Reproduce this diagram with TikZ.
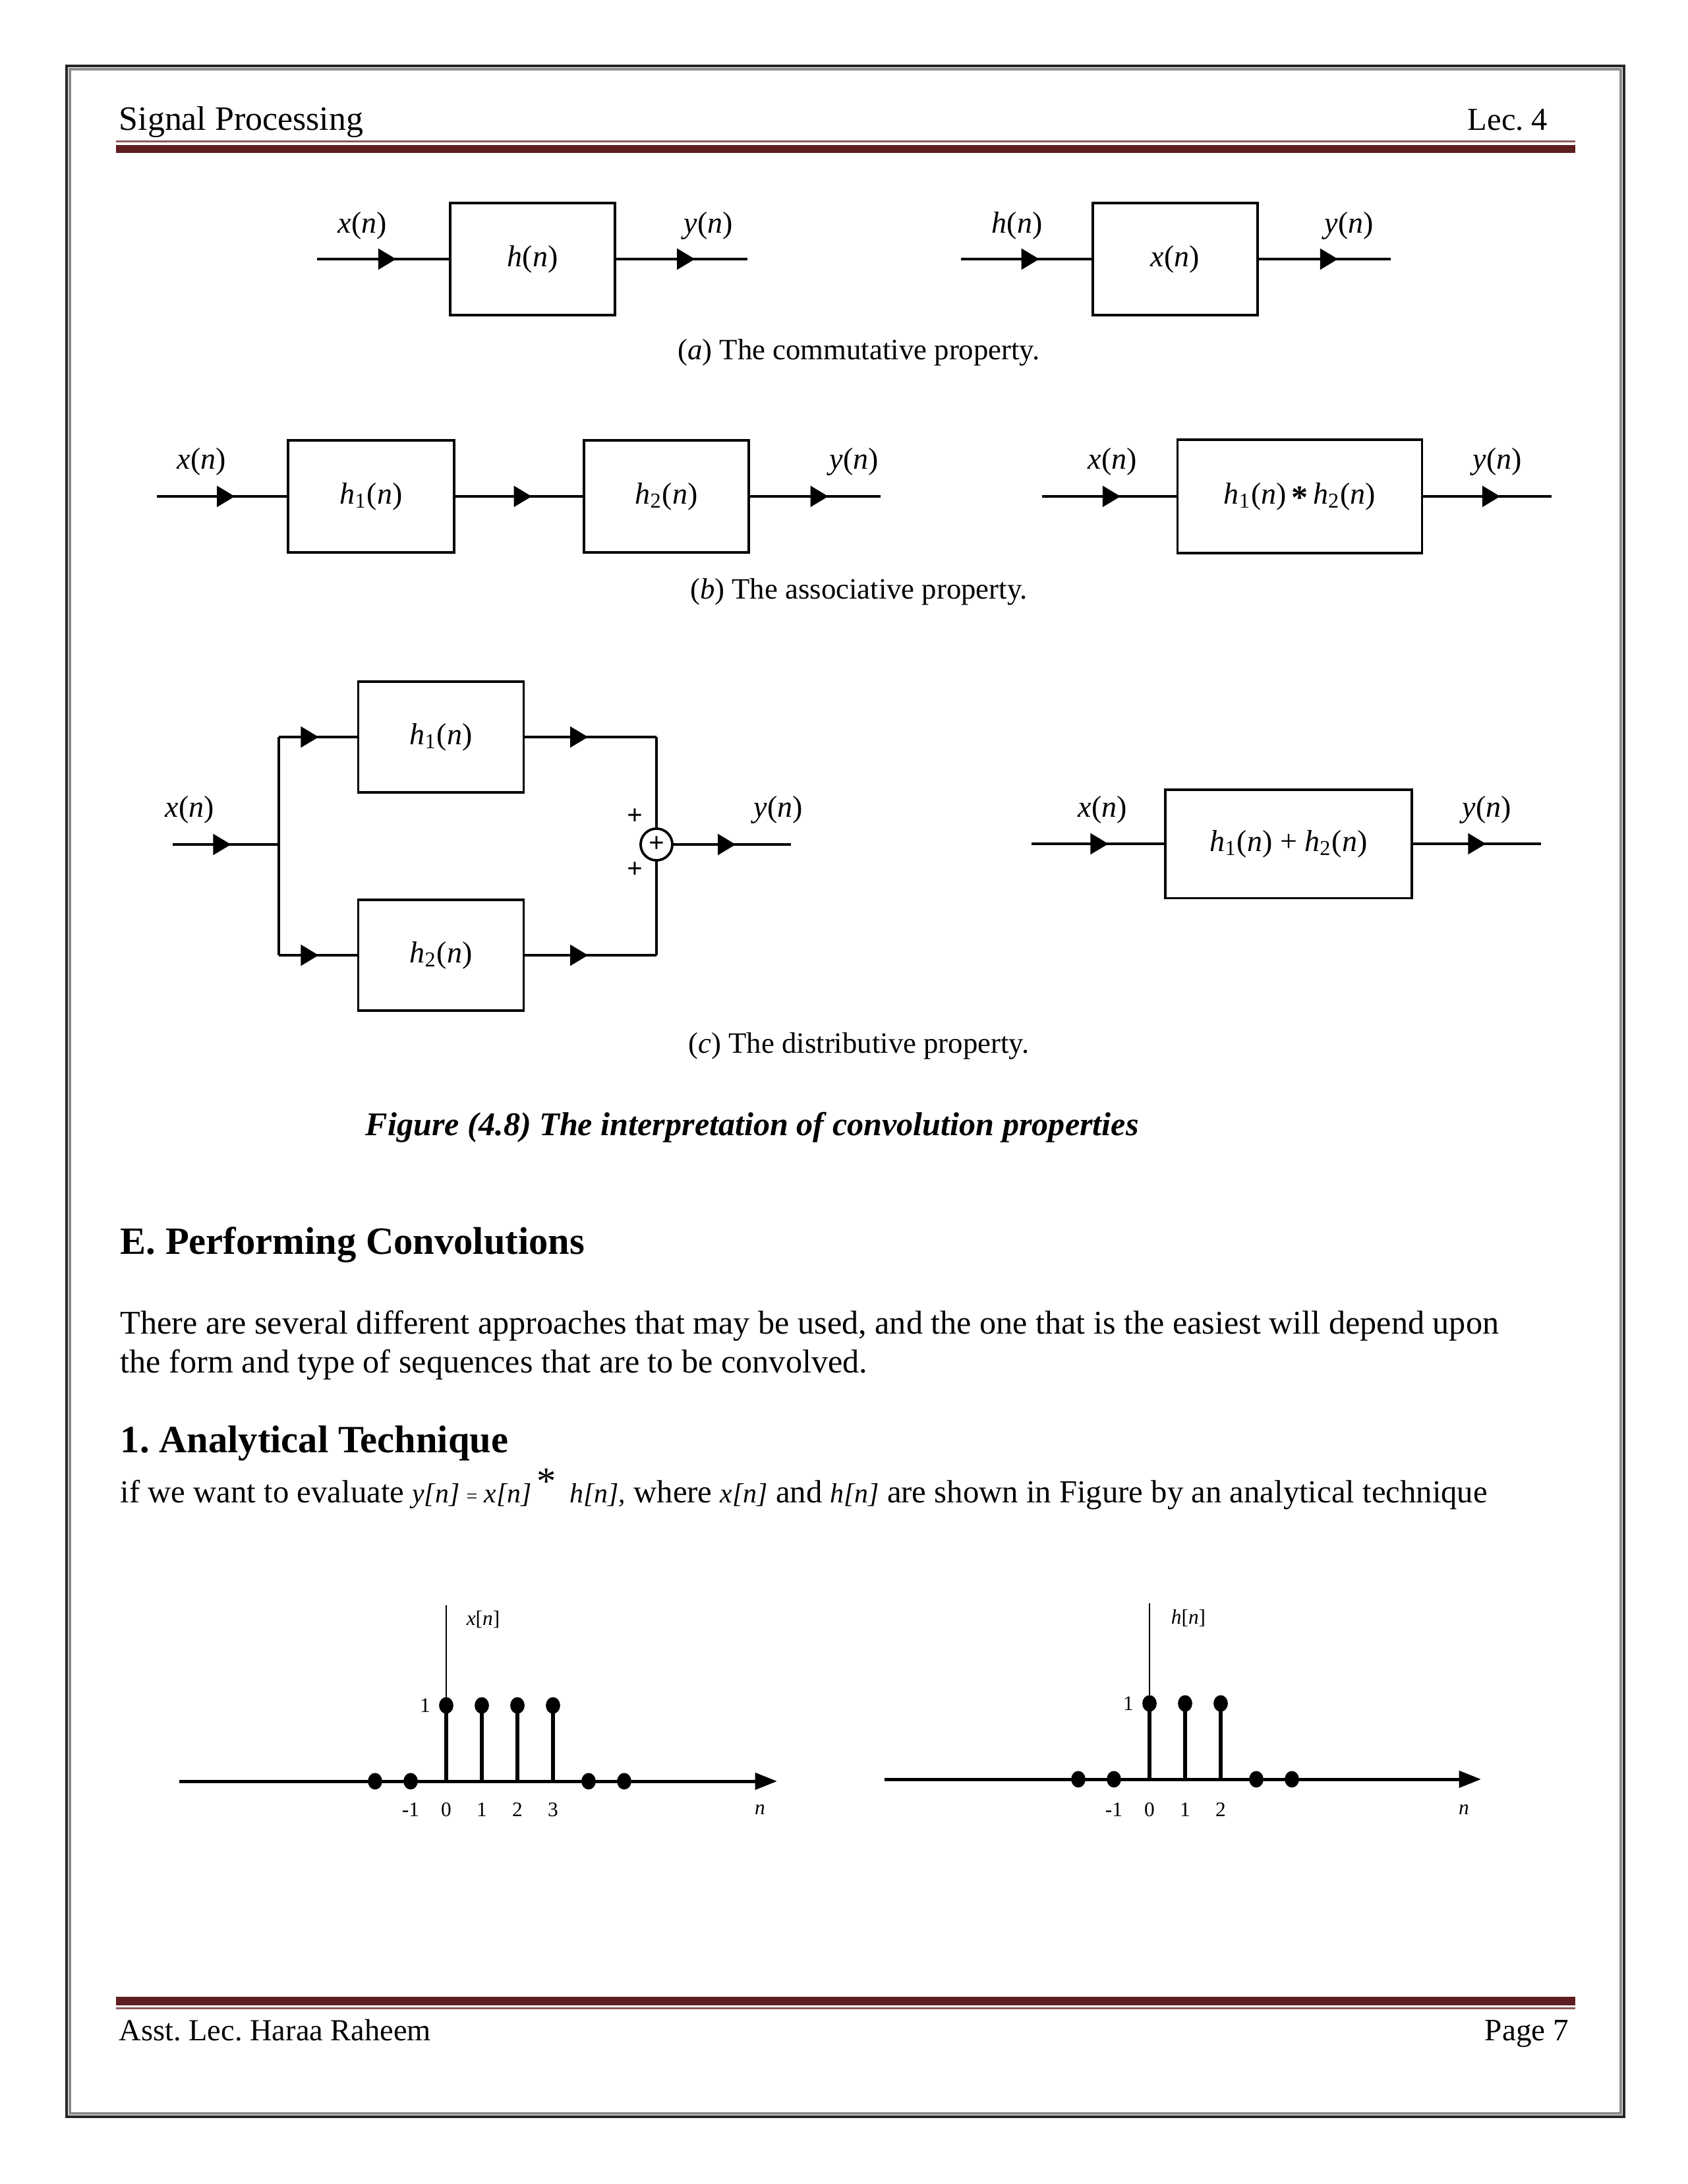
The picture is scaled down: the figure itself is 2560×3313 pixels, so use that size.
\documentclass[tikz,border=0pt]{standalone}
\usepackage{fontspec}
\setmainfont{Liberation Serif}
\usetikzlibrary{arrows.meta,decorations.markings}
\definecolor{hdrred}{HTML}{5E1E20}
\definecolor{hdrthin}{HTML}{8E5A5A}
\newcommand{\sg}[1]{\textit{#1}(\textit{n})}
\newcommand{\hsub}[1]{\textit{h}\textsubscript{#1}(\textit{n})}
\frenchspacing
\begin{document}
\begin{tikzpicture}[x=0.2390625pt, y=-0.2390625pt,
  lbl/.style={font=\fontsize{11}{13}\selectfont, inner sep=0pt},
  blk/.style={draw, line width=0.9pt, inner sep=0pt, font=\fontsize{11}{13}\selectfont},
  sig/.style={line width=1pt, postaction={decorate},
    decoration={markings, mark=at position #1 with {\arrow{Triangle[length=6.5pt,width=7.5pt]}}}},
  sig/.default=0.6,
  wire/.style={line width=1pt},
  capt/.style={font=\fontsize{10.7}{12}\selectfont, inner sep=0pt},
  tiny/.style={font=\fontsize{7.5}{9}\selectfont, inner sep=0pt},
  body/.style={anchor=base west, inner sep=0pt, font=\fontsize{12}{14}\selectfont},
  head/.style={anchor=base west, inner sep=0pt, font=\bfseries\fontsize{14}{16}\selectfont},
  stem/.style={line width=1.6pt},
  plus/.style={font=\bfseries\fontsize{10}{10}\selectfont, inner sep=0pt}
]
\useasboundingbox (0,0) rectangle (2560,3313);
% page frame
\draw[line width=0.8pt, black!85] (101,100) rectangle (2464,3211);
\draw[line width=0.9pt, black!45] (106,105) rectangle (2459,3206);
% header
\node[body, font=\fontsize{12.4}{14}\selectfont] (hl) at (180,197) {Signal Processing};
\node[body, anchor=base east, font=\fontsize{11.6}{14}\selectfont] (hr) at (2349,197) {Lec. 4};
\draw[line width=0.5pt, hdrthin] (176,214.5) -- (2390,214.5);
\fill[hdrred] (176,220) rectangle (2390,232);
% footer
\fill[hdrred] (176,3029) rectangle (2390,3042);
\draw[line width=0.5pt, hdrthin] (176,3046.5) -- (2390,3046.5);
\node[body, font=\fontsize{11.1}{14}\selectfont] (fl) at (180,3095) {Asst. Lec. Haraa Raheem};
\node[body, anchor=base east, font=\fontsize{11.3}{14}\selectfont] (fr) at (2381,3095) {Page 7};

% (a) commutative
\node[blk, minimum width=59.8pt, minimum height=40.7pt] (aL) at (808,393) {\sg{h}};
\node[blk, minimum width=59.8pt, minimum height=40.7pt] (aR) at (1783,393) {\sg{x}};
\coordinate (aLin) at (481,393); \coordinate (aLout) at (1134,393);
\coordinate (aRin) at (1458,393); \coordinate (aRout) at (2110,393);
\draw[sig] (aLin) -- (aL);
\draw[sig] (aL) -- (aLout);
\draw[sig] (aRin) -- (aR);
\draw[sig] (aR) -- (aRout);
\node[lbl] (aLx) at (550,342) {\sg{x}};
\node[lbl] (aLy) at (1075,342) {\sg{y}};
\node[lbl] (aRh) at (1543,342) {\sg{h}};
\node[lbl] (aRy) at (2047,342) {\sg{y}};
\node[capt] (capa) at (1303,535) {(\textit{a}) The commutative property.};

% (b) associative
\node[blk, minimum width=60.2pt, minimum height=40.6pt] (b1) at (563,753) {\hsub{1}};
\node[blk, minimum width=59.8pt, minimum height=40.6pt] (b2) at (1011,753) {\hsub{2}};
\node[blk, minimum width=88.7pt, minimum height=41pt] (bR) at (1972,753) {\hsub{1}\,{\bfseries\fontsize{12}{12}\selectfont\raisebox{-0.3ex}{*}}\,\hsub{2}};
\coordinate (bin) at (238,753); \coordinate (bout) at (1336,753);
\coordinate (brin) at (1581,753); \coordinate (brout) at (2354,753);
\draw[sig] (bin) -- (b1);
\draw[sig] (b1) -- (b2);
\draw[sig] (b2) -- (bout);
\draw[sig=0.585] (brin) -- (bR);
\draw[sig] (bR) -- (brout);
\node[lbl] (bx) at (306,700) {\sg{x}};
\node[lbl] (by) at (1296,700) {\sg{y}};
\node[lbl] (brx) at (1688,700) {\sg{x}};
\node[lbl] (bry) at (2272,700) {\sg{y}};
\node[capt] (capb) at (1303,898) {(\textit{b}) The associative property.};

% (c) distributive
\node[blk, minimum width=60pt, minimum height=40pt] (c1) at (669,1118) {\hsub{1}};
\node[blk, minimum width=60pt, minimum height=40pt] (c2) at (669,1449) {\hsub{2}};
\node[draw, circle, line width=0.9pt, minimum size=11.5pt, inner sep=0pt, font=\bfseries\fontsize{10}{10}\selectfont] (sum) at (996,1281) {+};
\coordinate (cin) at (262,1281); \coordinate (csplit) at (423,1281);
\coordinate (ctl) at (423,1118); \coordinate (cbl) at (423,1449);
\coordinate (ctr) at (996,1118); \coordinate (cbr) at (996,1449);
\coordinate (cout) at (1200,1281);
\draw[sig=0.55] (cin) -- (csplit);
\draw[wire] (ctl) -- (cbl);
\draw[sig=0.51] (ctl) -- (c1);
\draw[sig=0.51] (cbl) -- (c2);
\draw[sig=0.48] (c1) -- (ctr);
\draw[sig=0.48] (c2) -- (cbr);
\draw[wire] (ctr) -- (sum);
\draw[wire] (cbr) -- (sum);
\draw[sig=0.53] (sum) -- (cout);
\node[plus] (p1) at (963,1239) {+};
\node[plus] (p2) at (963,1320) {+};
\node[lbl] (cx) at (288,1228) {\sg{x}};
\node[lbl] (cy) at (1181,1228) {\sg{y}};
\node[blk, minimum width=89.4pt, minimum height=39.4pt] (cR) at (1955,1280) {\hsub{1} + \hsub{2}};
\coordinate (crin) at (1565,1280); \coordinate (crout) at (2338,1280);
\draw[sig=0.58] (crin) -- (cR);
\draw[sig=0.57] (cR) -- (crout);
\node[lbl] (crx) at (1673,1228) {\sg{x}};
\node[lbl] (cry) at (2256,1228) {\sg{y}};
\node[capt] (capc) at (1303,1587) {(\textit{c}) The distributive property.};

% figure caption and text
\node[anchor=base west, inner sep=0pt, font=\bfseries\itshape\fontsize{12}{14}\selectfont] (figcap) at (554,1722) {Figure (4.8) The interpretation of convolution properties};
\node[head] (hE) at (182,1902) {E. Performing Convolutions};
\node[body] (t1) at (182,2023) {There are several different approaches that may be used, and the one that is the easiest will depend upon};
\node[body] (t2) at (182,2082) {the form and type of sequences that are to be convolved.};
\node[head] (h1) at (182,2203) {1. Analytical Technique};
\node[body, font=\fontsize{11.65}{14}\selectfont] (t3) at (182,2279) {if we want to evaluate {\itshape\fontsize{10}{12}\selectfont y[n] {\fontsize{7}{8}\selectfont\upshape=} x[n]}\,\raisebox{0.55ex}{\fontsize{14}{14}\selectfont *}\, {\itshape\fontsize{10}{12}\selectfont h[n],} where {\itshape\fontsize{10}{12}\selectfont x[n]} and {\itshape\fontsize{10}{12}\selectfont h[n]} are shown in Figure by an analytical technique};

% stem plot x[n]
\draw[line width=1.2pt, -{Triangle[length=8pt,width=6pt]}] (272,2702) -- (1179,2702);
\draw[line width=0.6pt] (677,2702) -- (677,2435);
\foreach \k in {0,1,2,3} {
  \draw[stem] (677+54*\k,2702) -- (677+54*\k,2587);
  \fill (677+54*\k,2587) circle[x radius=2.6pt, y radius=3pt];
}
\foreach \k in {-2,-1,4,5} {
  \fill (677+54*\k,2702) circle[x radius=2.6pt, y radius=3pt];
}
\foreach \k/\t in {-1/-1,0/0,1/1,2/2,3/3} {
  \node[tiny] at (677+54*\k,2745) {\t};
}
\node[tiny] (xn1) at (645,2587) {1};
\node[tiny] (xnl) at (733,2457) {\textit{x}[\textit{n}]};
\node[tiny] (xnn) at (1153,2745) {\textit{n}};

% stem plot h[n]
\draw[line width=1.2pt, -{Triangle[length=8pt,width=6pt]}] (1342,2699) -- (2247,2699);
\draw[line width=0.6pt] (1744,2699) -- (1744,2432);
\foreach \k in {0,1,2} {
  \draw[stem] (1744+54*\k,2699) -- (1744+54*\k,2584);
  \fill (1744+54*\k,2584) circle[x radius=2.6pt, y radius=3pt];
}
\foreach \k in {-2,-1,3,4} {
  \fill (1744+54*\k,2699) circle[x radius=2.6pt, y radius=3pt];
}
\foreach \k/\t in {-1/-1,0/0,1/1,2/2} {
  \node[tiny] at (1744+54*\k,2745) {\t};
}
\node[tiny] (hn1) at (1712,2584) {1};
\node[tiny] (hnl) at (1803,2455) {\textit{h}[\textit{n}]};
\node[tiny] (hnn) at (2221,2745) {\textit{n}};
\end{tikzpicture}
\end{document}
